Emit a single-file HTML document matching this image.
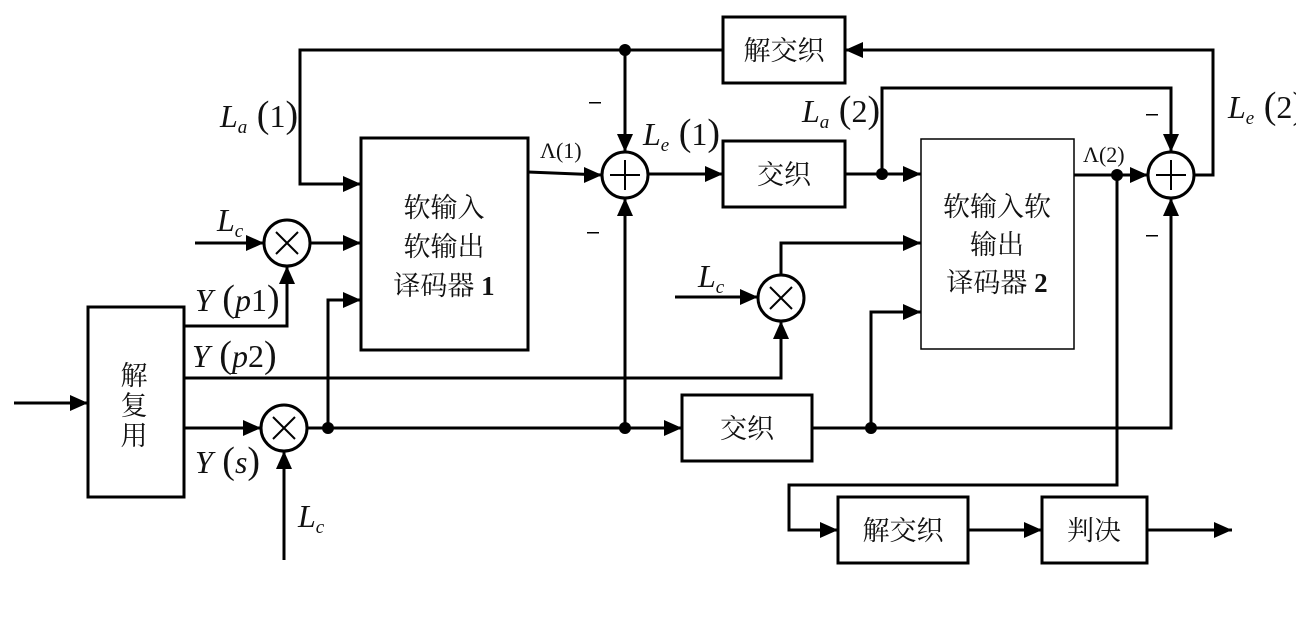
<!DOCTYPE html>
<html><head><meta charset="utf-8"><style>
html,body{margin:0;padding:0;background:#fff;}
svg{display:block;}
.cn{font-family:"Liberation Serif","Noto Serif CJK SC","Noto Sans CJK SC",serif;font-size:27px;fill:#111;}
.it{font-family:"Liberation Serif",serif;font-style:italic;font-size:32px;fill:#111;}
.rm{font-family:"Liberation Serif",serif;font-size:32px;fill:#111;}
.pp{font-family:"Liberation Serif",serif;font-size:38px;fill:#111;}
.sb{font-family:"Liberation Serif",serif;font-style:italic;font-size:19px;fill:#111;}
.sm{font-family:"Liberation Serif",serif;font-size:22px;fill:#111;}
</style></head><body>
<svg width="1296" height="629" viewBox="0 0 1296 629" xmlns="http://www.w3.org/2000/svg">
<g fill="none" stroke="#000" stroke-width="3">
<rect x="88" y="307" width="96" height="190"/>
<rect x="361" y="138" width="167" height="212"/>
<rect x="921" y="139" width="153" height="210" stroke-width="1.5"/>
<rect x="723" y="17" width="122" height="66"/>
<rect x="723" y="141" width="122" height="66"/>
<rect x="682" y="395" width="130" height="66"/>
<rect x="838" y="497" width="130" height="66"/>
<rect x="1042" y="497" width="105" height="66"/>
<circle cx="625" cy="175" r="23"/>
<circle cx="1171" cy="175" r="23"/>
<circle cx="287" cy="243" r="23"/>
<circle cx="781" cy="298" r="23"/>
<circle cx="284" cy="428" r="23"/>
<polyline points="14,403 88,403"/>
<polyline points="723,50 300,50 300,184 361,184"/>
<line x1="625" y1="50" x2="625" y2="152"/>
<polyline points="1194,175 1213,175 1213,50 845,50"/>
<line x1="195" y1="243" x2="264" y2="243"/>
<line x1="310" y1="243" x2="361" y2="243"/>
<polyline points="184,326 287,326 287,266"/>
<polyline points="184,378 781,378 781,321"/>
<line x1="184" y1="428" x2="261" y2="428"/>
<line x1="307" y1="428" x2="682" y2="428"/>
<polyline points="328,428 328,300 361,300"/>
<line x1="625" y1="428" x2="625" y2="198"/>
<line x1="284" y1="560" x2="284" y2="451"/>
<line x1="528" y1="172" x2="602" y2="175"/>
<line x1="648" y1="174" x2="723" y2="174"/>
<line x1="845" y1="174" x2="921" y2="174"/>
<polyline points="882,174 882,88 1171,88 1171,152"/>
<line x1="1074" y1="175" x2="1148" y2="175"/>
<polyline points="1117,175 1117,485 789,485 789,530 838,530"/>
<line x1="968" y1="530" x2="1042" y2="530"/>
<line x1="1147" y1="530" x2="1232" y2="530"/>
<line x1="675" y1="297" x2="758" y2="297"/>
<polyline points="781,275 781,243 921,243"/>
<polyline points="812,428 1171,428 1171,198"/>
<polyline points="871,428 871,312 921,312"/>
<path d="M625,160V190M610,175H640M1171,160V190M1156,175H1186" stroke-width="2"/>
<path d="M276,232L298,254M298,232L276,254M770,287L792,309M792,287L770,309M273,417L295,439M295,417L273,439" stroke-width="2"/>
</g>
<g fill="#000">
<polygon points="361,184 343,176 343,192"/>
<polygon points="264,243 246,235 246,251"/>
<polygon points="361,243 343,235 343,251"/>
<polygon points="361,300 343,292 343,308"/>
<polygon points="88,403 70,395 70,411"/>
<polygon points="261,428 243,420 243,436"/>
<polygon points="682,428 664,420 664,436"/>
<polygon points="602,175 584,167 584,183"/>
<polygon points="723,174 705,166 705,182"/>
<polygon points="921,174 903,166 903,182"/>
<polygon points="1148,175 1130,167 1130,183"/>
<polygon points="758,297 740,289 740,305"/>
<polygon points="921,243 903,235 903,251"/>
<polygon points="921,312 903,304 903,320"/>
<polygon points="838,530 820,522 820,538"/>
<polygon points="1042,530 1024,522 1024,538"/>
<polygon points="1232,530 1214,522 1214,538"/>
<polygon points="845,50 863,42 863,58"/>
<polygon points="625,152 617,134 633,134"/>
<polygon points="1171,152 1163,134 1179,134"/>
<polygon points="625,198 617,216 633,216"/>
<polygon points="1171,198 1163,216 1179,216"/>
<polygon points="287,266 279,284 295,284"/>
<polygon points="781,321 773,339 789,339"/>
<polygon points="284,451 276,469 292,469"/>
<circle cx="625" cy="50" r="6"/>
<circle cx="328" cy="428" r="6"/>
<circle cx="625" cy="428" r="6"/>
<circle cx="882" cy="174" r="6"/>
<circle cx="1117" cy="175" r="6"/>
<circle cx="871" cy="428" r="6"/>
<rect x="589" y="102" width="12" height="1.5"/>
<rect x="587" y="232" width="12" height="1.5"/>
<rect x="1146" y="114" width="12" height="1.5"/>
<rect x="1146" y="235" width="12" height="1.5"/>
</g>
<text class="cn" x="134" y="385" text-anchor="middle">解</text>
<text class="cn" x="134" y="415" text-anchor="middle">复</text>
<text class="cn" x="134" y="445" text-anchor="middle">用</text>
<text class="cn" x="444" y="217" text-anchor="middle">软输入</text>
<text class="cn" x="444" y="256" text-anchor="middle">软输出</text>
<text class="cn" x="444" y="295" text-anchor="middle">译码器 <tspan font-weight="bold">1</tspan></text>
<text class="cn" x="997" y="216" text-anchor="middle">软输入软</text>
<text class="cn" x="997" y="254" text-anchor="middle">输出</text>
<text class="cn" x="997" y="292" text-anchor="middle">译码器 <tspan font-weight="bold">2</tspan></text>
<text class="cn" x="784" y="60" text-anchor="middle">解交织</text>
<text class="cn" x="784" y="184" text-anchor="middle">交织</text>
<text class="cn" x="747" y="438" text-anchor="middle">交织</text>
<text class="cn" x="903" y="540" text-anchor="middle">解交织</text>
<text class="cn" x="1094" y="540" text-anchor="middle">判决</text>
<text class="sm" x="540" y="158">Λ(1)</text>
<text class="sm" x="1083" y="162">Λ(2)</text>
<text x="220" y="127"><tspan class="it">L</tspan><tspan class="sb" dy="6">a</tspan><tspan class="pp" dy="-6"> (</tspan><tspan class="rm">1</tspan><tspan class="pp">)</tspan></text>
<text x="643" y="145"><tspan class="it">L</tspan><tspan class="sb" dy="6">e</tspan><tspan class="pp" dy="-6"> (</tspan><tspan class="rm">1</tspan><tspan class="pp">)</tspan></text>
<text x="802" y="122"><tspan class="it">L</tspan><tspan class="sb" dy="6">a</tspan><tspan class="pp" dy="-6"> (</tspan><tspan class="rm">2</tspan><tspan class="pp">)</tspan></text>
<text x="1228" y="118"><tspan class="it">L</tspan><tspan class="sb" dy="6">e</tspan><tspan class="pp" dy="-6"> (</tspan><tspan class="rm">2</tspan><tspan class="pp">)</tspan></text>
<text x="217" y="231"><tspan class="it">L</tspan><tspan class="sb" dy="6">c</tspan></text>
<text x="698" y="287"><tspan class="it">L</tspan><tspan class="sb" dy="6">c</tspan></text>
<text x="298" y="527"><tspan class="it">L</tspan><tspan class="sb" dy="6">c</tspan></text>
<text x="195" y="311"><tspan class="it">Y</tspan><tspan class="pp"> (</tspan><tspan class="it">p</tspan><tspan class="rm">1</tspan><tspan class="pp">)</tspan></text>
<text x="192" y="367"><tspan class="it">Y</tspan><tspan class="pp"> (</tspan><tspan class="it">p</tspan><tspan class="rm">2</tspan><tspan class="pp">)</tspan></text>
<text x="195" y="473"><tspan class="it">Y</tspan><tspan class="pp"> (</tspan><tspan class="it">s</tspan><tspan class="pp">)</tspan></text>
</svg>
</body></html>
